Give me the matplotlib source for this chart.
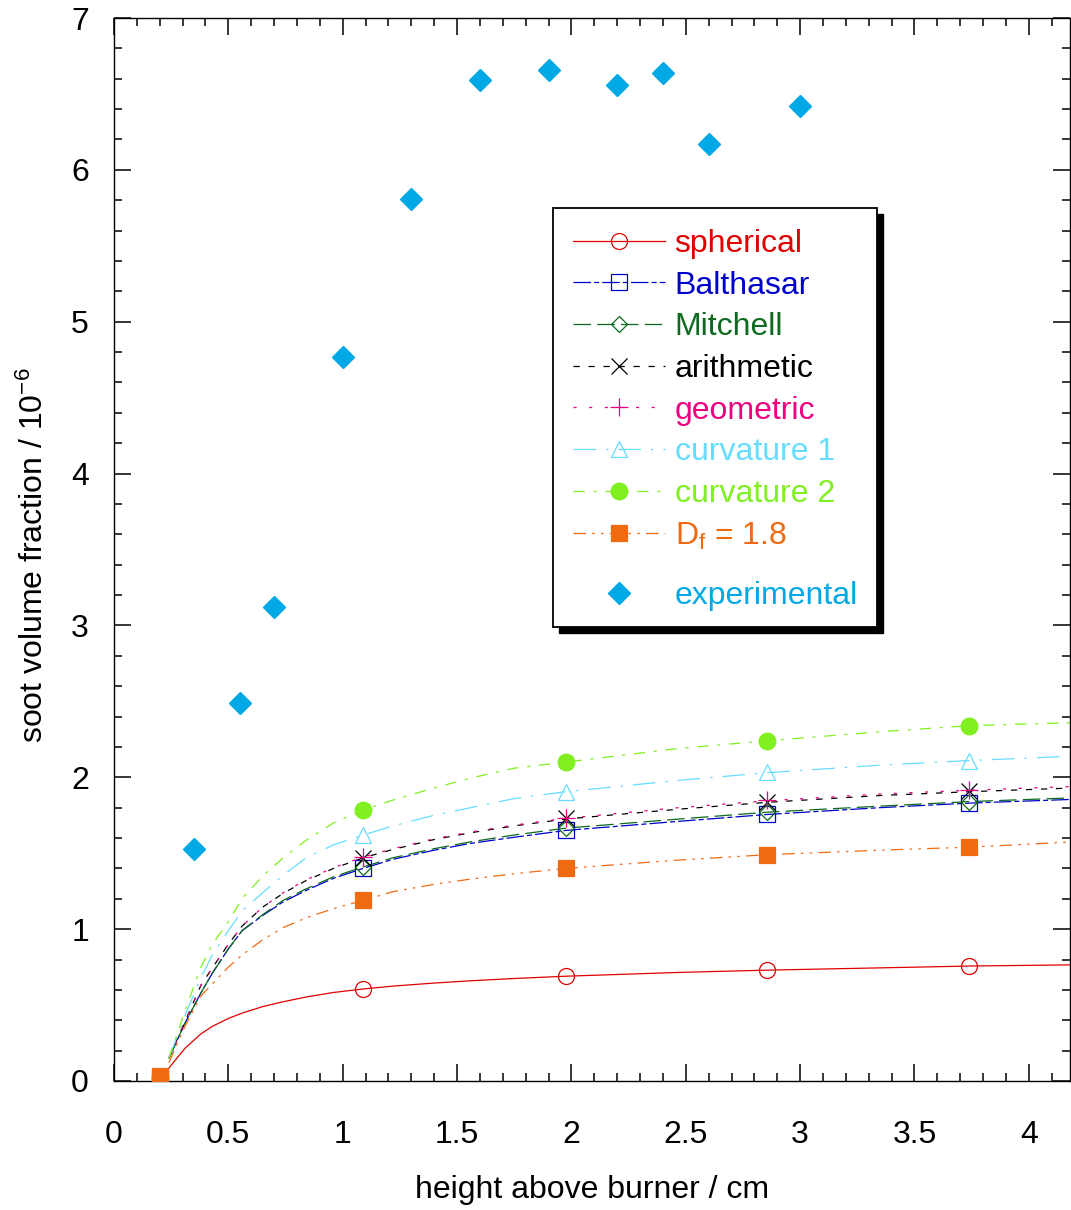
import matplotlib
matplotlib.use('Agg')
import matplotlib.pyplot as plt
from matplotlib.lines import Line2D
from matplotlib.patches import Rectangle
from matplotlib.ticker import MultipleLocator, FuncFormatter

plt.rcParams['font.family'] = ['Liberation Sans', 'DejaVu Sans']
plt.rcParams['mathtext.fontset'] = 'custom'
plt.rcParams['mathtext.rm'] = 'Liberation Sans'
plt.rcParams['mathtext.it'] = 'Liberation Sans'
plt.rcParams['mathtext.bf'] = 'Liberation Sans:bold'
plt.rcParams['axes.unicode_minus'] = False

# ---------------- data ----------------
exp_x = [0.35, 0.55, 0.70, 1.00, 1.30, 1.60, 1.90, 2.20, 2.40, 2.60, 3.00]
exp_y = [1.53, 2.49, 3.12, 4.77, 5.81, 6.59, 6.66, 6.56, 6.64, 6.17, 6.42]

marker_x = [0.20, 1.09, 1.975, 2.855, 3.74]

curve_x = [0.24, 0.31, 0.38, 0.43, 0.50, 0.56, 0.65, 0.74, 0.84, 0.96, 1.09,
           1.22, 1.40, 1.56, 1.75, 1.975, 2.47, 2.855, 3.35, 3.74, 4.20]
spherical_x = [0.20, 0.24, 0.31, 0.38, 0.43, 0.50, 0.56, 0.65, 0.74, 0.84, 0.96, 1.09,
               1.22, 1.40, 1.56, 1.75, 1.975, 2.47, 2.855, 3.35, 3.74, 4.20]

spherical_y = [0.03, 0.085, 0.215, 0.31, 0.36, 0.412, 0.447, 0.49, 0.522, 0.553, 0.583, 0.606,
               0.625, 0.645, 0.66, 0.675, 0.69, 0.715, 0.73, 0.745, 0.757, 0.765]
balthasar_y = [0.15, 0.38, 0.58, 0.71, 0.87, 0.99, 1.09, 1.18, 1.255, 1.335, 1.40,
               1.46, 1.52, 1.565, 1.605, 1.65, 1.71, 1.755, 1.80, 1.83, 1.855]
mitchell_y = [0.15, 0.38, 0.58, 0.71, 0.87, 0.99, 1.095, 1.19, 1.265, 1.345, 1.41,
              1.47, 1.53, 1.575, 1.62, 1.665, 1.725, 1.77, 1.81, 1.84, 1.865]
arithmetic_y = [0.15, 0.39, 0.63, 0.745, 0.90, 1.02, 1.145, 1.236, 1.32, 1.40, 1.47,
                1.525, 1.59, 1.635, 1.68, 1.725, 1.79, 1.835, 1.88, 1.905, 1.93]
geometric_y = [0.15, 0.39, 0.63, 0.745, 0.90, 1.02, 1.145, 1.24, 1.325, 1.405, 1.475,
               1.53, 1.595, 1.64, 1.685, 1.73, 1.80, 1.845, 1.89, 1.915, 1.94]
curv1_y = [0.15, 0.43, 0.68, 0.83, 0.99, 1.12, 1.24, 1.355, 1.47, 1.555, 1.62,
           1.68, 1.75, 1.80, 1.86, 1.905, 1.98, 2.03, 2.08, 2.11, 2.14]
curv2_y = [0.15, 0.46, 0.75, 0.90, 1.05, 1.20, 1.35, 1.47, 1.585, 1.70, 1.785,
           1.85, 1.93, 1.995, 2.06, 2.10, 2.19, 2.24, 2.30, 2.34, 2.36]
df_y = [0.12, 0.36, 0.56, 0.64, 0.75, 0.83, 0.93, 1.01, 1.075, 1.135, 1.19,
        1.247, 1.295, 1.33, 1.365, 1.40, 1.455, 1.49, 1.52, 1.54, 1.575]

spherical_m = [0.02, 0.606, 0.69, 0.73, 0.757]
balthasar_m = [0.02, 1.40, 1.652, 1.76, 1.83]
mitchell_m = [0.02, 1.41, 1.665, 1.77, 1.84]
arithmetic_m = [0.02, 1.47, 1.73, 1.84, 1.91]
geometric_m = [0.02, 1.475, 1.73, 1.85, 1.915]
curv1_m = [0.02, 1.62, 1.905, 2.035, 2.11]
curv2_m = [0.02, 1.785, 2.10, 2.24, 2.34]
df_m = [0.03, 1.19, 1.40, 1.49, 1.54]

labels = ['spherical', 'Balthasar', 'Mitchell', 'arithmetic', 'geometric',
          'curvature 1', 'curvature 2', r'D$_{\rm f}$ = 1.8', 'experimental']
colors = ['#e00000', '#0000cc', '#0d6a1e', '#000000', '#ee0080',
          '#66ddff', '#80f020', '#f06a12', '#00a8e6']

# ---------------- figure ----------------
W, H = 1071, 1210
fig = plt.figure(figsize=(W / 100, H / 100), dpi=100)
ax = fig.add_axes([114 / W, 1 - 1081 / H, (1070 - 114) / W, 1063 / H])

FS = 23
LW = 0.9

series = [
    (spherical_x, spherical_y, spherical_m, dict(marker='o', mfc='none', ms=11.5), None),
    (curve_x, balthasar_y, balthasar_m, dict(marker='s', mfc='none', ms=11.5), (14, 2.5, 4, 2.5)),
    (curve_x, mitchell_y, mitchell_m, dict(marker='D', mfc='none', ms=8.5), (14, 5)),
    (curve_x, arithmetic_y, arithmetic_m, dict(marker='x', ms=11.5), (5, 7)),
    (curve_x, geometric_y, geometric_m, dict(marker='+', ms=13), (2.5, 10)),
    (curve_x, curv1_y, curv1_m, dict(marker='^', mfc='none', ms=11.5), (18, 8, 2, 8)),
    (curve_x, curv2_y, curv2_m, dict(marker='o', ms=12), (9, 7, 2.5, 7)),
    (curve_x, df_y, df_m, dict(marker='s', ms=11.5), (10, 5, 2, 5, 2, 5)),
]

handles = []
for (cx, cy, my, mk, dashes), col in zip(series, colors[:8]):
    line_kw = dict(color=col, lw=LW)
    if dashes is not None:
        line_kw['dashes'] = dashes
    ax.plot(cx, cy, **line_kw, zorder=2)
    mkw = dict(mk)
    mkw.setdefault('mfc', col)
    ax.plot(marker_x, my, ls='none', color=col, mec=col, mew=0.9, zorder=3, **mkw)
    handles.append(Line2D([], [], mec=col, mew=0.9, **line_kw, **mkw))

ax.plot(exp_x, exp_y, ls='none', marker='D', ms=11, color=colors[8], mec=colors[8], zorder=4)
exp_handle = Line2D([], [], ls='none', marker='D', ms=11, color=colors[8], mec=colors[8])

ax.set_xlim(0, 4.18)
ax.set_ylim(0, 7)
ax.xaxis.set_major_locator(MultipleLocator(0.5))
ax.xaxis.set_minor_locator(MultipleLocator(0.1))
ax.yaxis.set_major_locator(MultipleLocator(1))
ax.yaxis.set_minor_locator(MultipleLocator(0.2))
ax.xaxis.set_major_formatter(FuncFormatter(lambda v, p: f'{v:g}'))
ax.tick_params(which='both', direction='in', top=True, right=True, width=1.1, colors='black')
ax.tick_params(which='major', length=12, labelsize=FS)
ax.tick_params(which='minor', length=6)
ax.tick_params(axis='x', which='major', pad=28)
ax.tick_params(axis='y', which='major', pad=18)
for sp in ax.spines.values():
    sp.set_linewidth(1.0)

ax.set_xlabel('height above burner / cm', fontsize=FS)
ax.xaxis.set_label_coords(0.5, -(1190 - 1081) / 1063)
ax.xaxis.label.set_va('center')
ax.set_ylabel('soot volume fraction / 10$^{-6}$', fontsize=FS)
ax.yaxis.set_label_coords(-(114 - 34) / 956, (1081 - 555) / 1063)
ax.yaxis.label.set_va('center')

# legend frame with shadow
shadow = Rectangle((559 / W, 1 - 633 / H), 324 / W, 419 / H, transform=fig.transFigure,
                   facecolor='black', edgecolor='black', zorder=5)
box = Rectangle((553 / W, 1 - 627 / H), 324 / W, 419 / H, transform=fig.transFigure,
                facecolor='white', edgecolor='black', lw=1.3, zorder=6)
fig.patches.extend([shadow, box])

leg_kw = dict(loc='upper left', bbox_transform=fig.transFigure, frameon=False,
              fontsize=FS, handlelength=3.07 * 21.5 / FS, handletextpad=0.31,
              borderpad=0, borderaxespad=0, labelspacing=0.365, numpoints=1)
leg = fig.legend(handles, labels[:8], bbox_to_anchor=(573 / W, 1 - 229 / H),
                 labelcolor=colors[:8], **leg_kw)
leg.set_zorder(7)
leg2 = fig.legend([exp_handle], labels[8:], bbox_to_anchor=(573 / W, 1 - 581 / H),
                  labelcolor=colors[8:], **leg_kw)
leg2.set_zorder(7)

fig.savefig('out.png', dpi=100)
